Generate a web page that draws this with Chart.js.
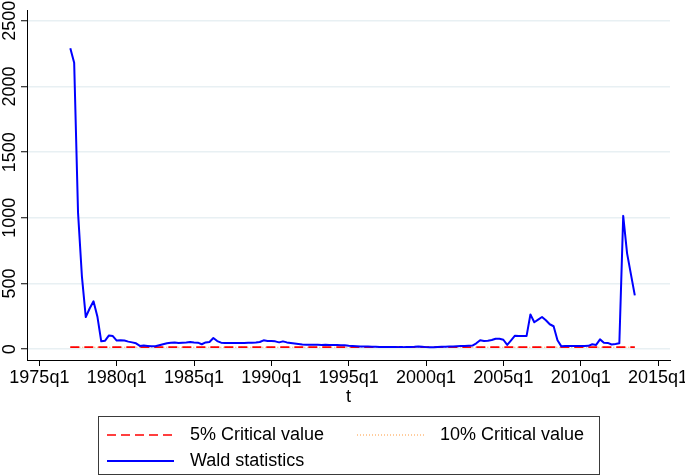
<!DOCTYPE html>
<html><head><meta charset="utf-8">
<script src="https://cdn.jsdelivr.net/npm/chart.js@4.4.1/dist/chart.umd.min.js"></script>
<style>html,body{margin:0;padding:0;background:#fff;}canvas{display:block;}</style>
</head><body>
<canvas id="c" width="685" height="476"></canvas>
<script>
// ---- data ----
const firstPeriod = '1977q1';
const wald = [
  2290,2180,1040,555,245,310,365,250,60,65,
  105,100,66,68,66,58,52,45,25,28,
  25,22,22,30,38,45,50,52,48,50,
  52,55,52,50,38,52,55,85,62,50,
  48,48,48,48,48,48,50,50,52,55,
  68,63,63,60,52,60,52,48,44,40,
  36,35,34,35,34,33,34,33,32,32,
  31,30,27,25,23,21,20,20,18,18,
  17,17,17,17,17,16,16,17,17,18,
  20,18,16,15,15,17,18,19,20,21,
  23,24,25,27,28,45,68,63,64,70,
  80,80,72,33,68,103,100,100,100,265,
  205,225,245,220,190,175,68,22,25,25,
  25,25,24,24,26,38,33,75,50,48,
  36,40,45,1015,730,570,410
];
const criticalValue5 = 16;
const criticalValue10 = 15;
const xTickLabels = ['1975q1','1980q1','1985q1','1990q1','1995q1','2000q1','2005q1','2010q1','2015q1'];
const yTickValues = [0,500,1000,1500,2000,2500];
const seriesLabels = ['5% Critical value','10% Critical value','Wald statistics'];
const xTitle = 't';

// ---- helpers ----
function periodIndex(label){
  const m = label.match(/(\d{4})q(\d)/);
  return (+m[1] - 1975) * 4 + (+m[2] - 1);
}
const start = periodIndex(firstPeriod);
const waldPoints = wald.map((v, i) => ({x: start + i, y: v}));
const lastX = start + wald.length - 1;
const cv5Points = [{x: start, y: criticalValue5}, {x: lastX, y: criticalValue5}];
const cv10Points = [{x: start, y: criticalValue10}, {x: lastX, y: criticalValue10}];

const FAMILY = '"Liberation Sans", Arial, Helvetica, sans-serif';
const FS = 18;

const yLabelPlugin = {
  id: 'yLabels',
  afterDraw(chart) {
    const ctx = chart.ctx, ys = chart.scales.y;
    ctx.save();
    ctx.fillStyle = '#000';
    ctx.font = FS + 'px ' + FAMILY;
    ctx.textAlign = 'center';
    ctx.textBaseline = 'middle';
    yTickValues.forEach(v => {
      const py = ys.getPixelForValue(v);
      ctx.save();
      ctx.translate(10, py);
      ctx.rotate(-Math.PI / 2);
      ctx.fillText(String(v), 0, 0);
      ctx.restore();
    });
    ctx.restore();
  }
};

const legendPlugin = {
  id: 'boxLegend',
  afterDraw(chart) {
    const ctx = chart.ctx;
    const ds = chart.data.datasets;
    const byLabel = l => ds.find(d => d.label === l);
    const box = {x: 98.5, y: 416.5, w: 501, h: 58};
    ctx.save();
    ctx.strokeStyle = '#3a3a3a';
    ctx.lineWidth = 1;
    ctx.setLineDash([]);
    ctx.strokeRect(box.x, box.y, box.w, box.h);
    const items = [
      {l: seriesLabels[0], sx: 107, tx: 190, y: 435},
      {l: seriesLabels[1], sx: 357, tx: 440, y: 435},
      {l: seriesLabels[2], sx: 107, tx: 190, y: 461}
    ];
    items.forEach(it => {
      const d = byLabel(it.l);
      ctx.save();
      ctx.strokeStyle = d.borderColor;
      ctx.lineWidth = d.borderWidth;
      ctx.setLineDash(d.borderDash || []);
      ctx.beginPath();
      ctx.moveTo(it.sx, it.y);
      ctx.lineTo(it.sx + 67, it.y);
      ctx.stroke();
      ctx.restore();
      ctx.fillStyle = '#000';
      ctx.font = FS + 'px ' + FAMILY;
      ctx.textAlign = 'left';
      ctx.textBaseline = 'middle';
      ctx.fillText(it.l, it.tx, it.y);
    });
    ctx.restore();
  }
};

new Chart(document.getElementById('c'), {
  type: 'line',
  data: {
    datasets: [
      {label: seriesLabels[2], data: waldPoints, borderColor: '#0000ff', borderWidth: 2, pointRadius: 0, tension: 0, borderJoinStyle: 'round'},
      {label: seriesLabels[0], data: cv5Points, borderColor: '#ff0000', borderWidth: 1.7, borderDash: [9, 5], pointRadius: 0},
      {label: seriesLabels[1], data: cv10Points, borderColor: '#ff9a3c', borderWidth: 1, borderDash: [1, 2], pointRadius: 0}
    ]
  },
  options: {
    responsive: false,
    animation: false,
    devicePixelRatio: 1,
    layout: {padding: {top: 10, right: 15, bottom: 68, left: 0}},
    plugins: {legend: {display: false}, tooltip: {enabled: false}},
    scales: {
      x: {
        type: 'linear', min: -3.2, max: 163.1,
        afterBuildTicks: s => { s.ticks = xTickLabels.map(l => ({value: periodIndex(l)})); },
        ticks: {callback: (v, i) => xTickLabels[i], font: {size: FS, family: FAMILY}, color: '#000', padding: 1, maxRotation: 0, autoSkip: false},
        grid: {display: true, drawOnChartArea: false, drawTicks: true, tickLength: 6, tickColor: '#000', tickWidth: 1},
        border: {display: true, color: '#000', width: 1},
        title: {display: true, text: xTitle, font: {size: FS, family: FAMILY}, color: '#000', padding: {top: 0, bottom: 0}},
        afterFit: s => { s.height = 48; s.paddingLeft = 0; s.paddingRight = 0; }
      },
      y: {
        min: -82, max: 2582,
        afterBuildTicks: s => { s.ticks = yTickValues.map(v => ({value: v})); },
        ticks: {display: false},
        grid: {color: '#e8f0f3', lineWidth: 1.5, drawTicks: true, tickLength: 6, tickColor: '#000', tickWidth: 1},
        border: {display: true, color: '#000', width: 1},
        afterFit: s => { s.width = 27; s.paddingTop = 0; s.paddingBottom = 0; }
      }
    }
  },
  plugins: [yLabelPlugin, legendPlugin]
});
</script>
</body></html>
